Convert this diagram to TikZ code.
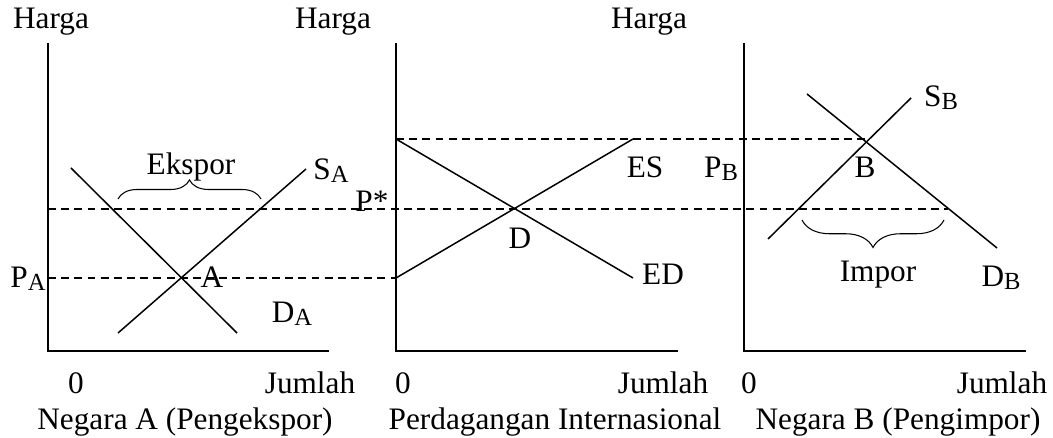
\documentclass[tikz,border=0pt]{standalone}
\usepackage{fontspec}
\setmainfont{Liberation Serif}
\usetikzlibrary{decorations.pathreplacing}
\newcommand{\idx}[1]{\raisebox{-0.2ex}{\fontsize{14}{16}\selectfont #1}}
\tikzset{
  axis/.style={line width=0.85pt},
  curve/.style={line width=0.85pt},
  guide/.style={line width=0.6pt,dash pattern=on 4.5pt off 3pt},
  lbl/.style={inner sep=0pt,font=\fontsize{17.8}{20}\selectfont},
  bracemark/.style={line width=0.6pt,decorate,decoration={brace,amplitude=#1}}
}
\begin{document}
\begin{tikzpicture}[x=0.02cm,y=-0.02cm]
\useasboundingbox (0,0) rectangle (1053,438);
% axes
\draw[axis] (48,43) -- (48,351) -- (329,351);
\draw[axis] (396,43) -- (396,351) -- (678,351);
\draw[axis] (744,43) -- (744,351) -- (1026,351);
% price levels
\draw[guide] (48,209) -- (948,209);
\draw[guide] (48,278) -- (396,278);
\draw[guide] (396,139) -- (866,139);
% Negara A
\draw[curve] (71,168) -- (237,333);
\draw[curve] (118,333) -- (306,169);
\draw[bracemark=0.38cm] (118,199) -- (261,199);
% perdagangan internasional
\draw[curve] (396,139) -- (633,278);
\draw[curve] (396,278) -- (633,139);
% Negara B
\draw[curve] (768,239) -- (911,98);
\draw[curve] (807,94) -- (997,248);
\draw[bracemark=0.55cm] (944,220) -- (802,220);
% labels
\node[lbl] (hargaA) at (51,22) {Harga};
\node[lbl] (hargaM) at (333,22) {Harga};
\node[lbl] (hargaB) at (649,22) {Harga};
\node[lbl] (ekspor) at (191,167) {Ekspor};
\node[lbl] (sA) at (331,171) {S\idx{A}};
\node[lbl] (pA) at (28,279) {P\idx{A}};
\node[lbl] (ptA) at (212,277) {A};
\node[lbl] (dA) at (292,314) {D\idx{A}};
\node[lbl] (pstar) at (372,201) {P*};
\node[lbl] (es) at (645,167) {ES};
\node[lbl] (ed) at (663,274) {ED};
\node[lbl] (ptD) at (520,238) {D};
\node[lbl] (pB) at (721,169) {P\idx{B}};
\node[lbl] (sB) at (941,98) {S\idx{B}};
\node[lbl] (ptB) at (865,167) {B};
\node[lbl] (impor) at (878,275) {Impor};
\node[lbl] (dB) at (1001,278) {D\idx{B}};
\node[lbl] (nolA) at (76,383) {0};
\node[lbl] (nolM) at (403,383) {0};
\node[lbl] (nolB) at (749,383) {0};
\node[lbl] (jmlA) at (310,383) {Jumlah};
\node[lbl] (jmlM) at (663,383) {Jumlah};
\node[lbl] (jmlB) at (1002,383) {Jumlah};
\node[lbl] (judulA) at (185,422) {Negara A (Pengekspor)};
\node[lbl] (judulM) at (555,422) {Perdagangan Internasional};
\node[lbl] (judulB) at (898,422) {Negara B (Pengimpor)};
\end{tikzpicture}
\end{document}
